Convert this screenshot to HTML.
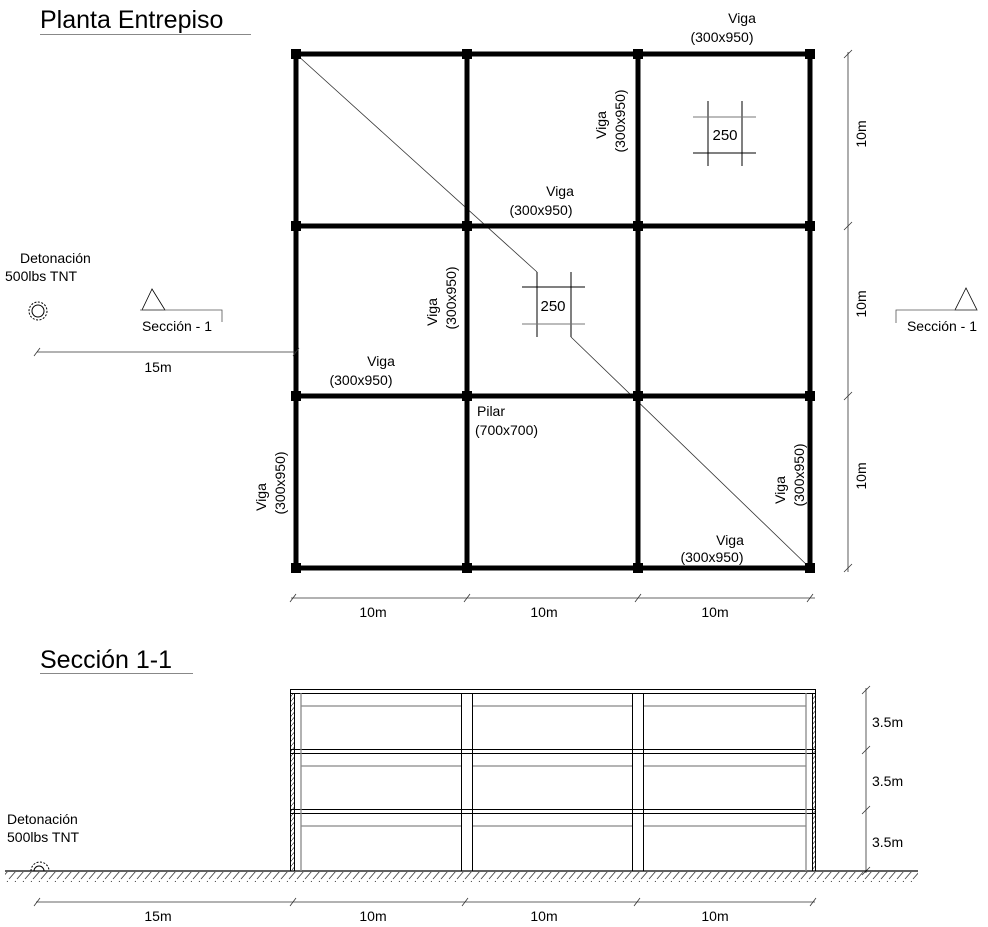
<!DOCTYPE html>
<html><head><meta charset="utf-8"><style>
html,body{margin:0;padding:0;background:#fff;}
svg{display:block;font-family:"Liberation Sans",Arial,sans-serif;}
</style></head><body>
<svg width="988" height="927" viewBox="0 0 988 927" xmlns="http://www.w3.org/2000/svg">
<defs>
<pattern id="gh" width="8" height="10" patternUnits="userSpaceOnUse">
<line x1="8" y1="1" x2="1" y2="9" stroke="#444" stroke-width="0.9"/>
</pattern>
<pattern id="wh" width="4" height="5" patternUnits="userSpaceOnUse">
<line x1="4" y1="0" x2="0" y2="5" stroke="#333" stroke-width="0.7"/>
</pattern>
</defs>
<text x="40" y="28" font-size="25">Planta Entrepiso</text>
<line x1="40" y1="34.5" x2="251" y2="34.5" stroke="#888" stroke-width="1"/>
<text x="40" y="668" font-size="25">Sección 1-1</text>
<line x1="40" y1="673.5" x2="193" y2="673.5" stroke="#888" stroke-width="1"/>

<polyline points="296,54 537,272" fill="none" stroke="#333" stroke-width="0.8"/>
<polyline points="571,337 810,568" fill="none" stroke="#333" stroke-width="0.8"/>

<g stroke="#000" stroke-width="5">
<line x1="296" y1="54" x2="810" y2="54"/>
<line x1="296" y1="226" x2="810" y2="226"/>
<line x1="296" y1="396" x2="810" y2="396"/>
<line x1="296" y1="568" x2="810" y2="568"/>
<line x1="296" y1="54" x2="296" y2="568"/>
<line x1="467" y1="54" x2="467" y2="568"/>
<line x1="638" y1="54" x2="638" y2="568"/>
<line x1="810" y1="54" x2="810" y2="568"/>
</g>
<g fill="#000">
<rect x="291" y="49" width="10" height="10"/><rect x="462" y="49" width="10" height="10"/><rect x="633" y="49" width="10" height="10"/><rect x="805" y="49" width="10" height="10"/>
<rect x="291" y="221" width="10" height="10"/><rect x="462" y="221" width="10" height="10"/><rect x="633" y="221" width="10" height="10"/><rect x="805" y="221" width="10" height="10"/>
<rect x="291" y="391" width="10" height="10"/><rect x="462" y="391" width="10" height="10"/><rect x="633" y="391" width="10" height="10"/><rect x="805" y="391" width="10" height="10"/>
<rect x="291" y="563" width="10" height="10"/><rect x="462" y="563" width="10" height="10"/><rect x="633" y="563" width="10" height="10"/><rect x="805" y="563" width="10" height="10"/>
</g>

<g stroke="#000" stroke-width="1">
<line x1="537" y1="272" x2="537" y2="337"/><line x1="571" y1="272" x2="571" y2="337"/>
<line x1="522" y1="287" x2="585" y2="287"/><line x1="522" y1="324" x2="585" y2="324" stroke="#777"/>
<line x1="708" y1="101" x2="708" y2="166"/><line x1="742" y1="101" x2="742" y2="166"/>
<line x1="693" y1="117" x2="756" y2="117" stroke="#777"/><line x1="693" y1="153" x2="756" y2="153"/>
</g>
<text x="553" y="311" font-size="15" text-anchor="middle">250</text>
<text x="725" y="140" font-size="15" text-anchor="middle">250</text>

<g font-size="14" text-anchor="middle">
<text x="742" y="23">Viga</text><text x="722" y="42">(300x950)</text>
<text x="560" y="196">Viga</text><text x="541" y="215">(300x950)</text>
<text x="381" y="366">Viga</text><text x="361" y="385">(300x950)</text>
<text x="730" y="545">Viga</text><text x="712" y="562">(300x950)</text>
<text x="20" y="263" text-anchor="start">Detonación</text>
<text x="5" y="281" text-anchor="start">500lbs TNT</text>
<text x="177" y="331">Sección - 1</text>
<text x="942" y="331">Sección - 1</text>
<text x="158" y="372">15m</text>
<text x="477" y="416" text-anchor="start">Pilar</text>
<text x="475" y="435" text-anchor="start">(700x700)</text>
<text x="373" y="617">10m</text><text x="544" y="617">10m</text><text x="715" y="617">10m</text>
<text x="158" y="921">15m</text><text x="373" y="921">10m</text><text x="544" y="921">10m</text><text x="715" y="921">10m</text>
</g>
<g font-size="14" text-anchor="middle">
<text transform="translate(606,125) rotate(-90)">Viga</text>
<text transform="translate(625,121) rotate(-90)">(300x950)</text>
<text transform="translate(437,312) rotate(-90)">Viga</text>
<text transform="translate(456,298) rotate(-90)">(300x950)</text>
<text transform="translate(266,497) rotate(-90)">Viga</text>
<text transform="translate(285,483) rotate(-90)">(300x950)</text>
<text transform="translate(785,490) rotate(-90)">Viga</text>
<text transform="translate(804,475) rotate(-90)">(300x950)</text>
<text transform="translate(866,134) rotate(-90)">10m</text>
<text transform="translate(866,304) rotate(-90)">10m</text>
<text transform="translate(866,476) rotate(-90)">10m</text>
</g>
<g font-size="14">
<text x="872" y="727">3.5m</text><text x="872" y="786">3.5m</text><text x="872" y="847">3.5m</text>
<text x="7" y="824">Detonación</text><text x="7" y="842">500lbs TNT</text>
</g>

<g fill="none" stroke="#000" stroke-width="0.8">
<polygon points="152,289 142,310 165,310"/>
<polyline points="140,310 222,310 222,322" stroke="#555"/>
<polygon points="966,288 955,310 977,310"/>
<polyline points="977,310 896,310 896,323" stroke="#555"/>
</g>
<g fill="none" stroke="#000" stroke-width="1">
<circle cx="38" cy="311" r="9" stroke-dasharray="2 1.5"/>
<circle cx="38" cy="311" r="6"/>
<path d="M31,871 A9,9 0 0 1 49,871" stroke-dasharray="2 1.5"/>
<path d="M34,871 A5,5 0 0 1 44,871"/>
</g>

<g stroke="#333" stroke-width="0.8">
<line x1="37" y1="352" x2="296" y2="352"/>
<line x1="34" y1="356" x2="40" y2="348"/><line x1="293" y1="356" x2="299" y2="348"/>
<line x1="291" y1="598" x2="815" y2="598"/>
<line x1="290" y1="602" x2="296" y2="594"/><line x1="464" y1="602" x2="470" y2="594"/><line x1="635" y1="602" x2="641" y2="594"/><line x1="807" y1="602" x2="813" y2="594"/>
<line x1="848" y1="52" x2="848" y2="572"/>
<line x1="844" y1="58" x2="852" y2="50"/><line x1="844" y1="230" x2="852" y2="222"/><line x1="844" y1="400" x2="852" y2="392"/><line x1="844" y1="572" x2="852" y2="564"/>
<line x1="866" y1="688" x2="866" y2="873"/>
<line x1="862" y1="694" x2="870" y2="686"/><line x1="862" y1="754" x2="870" y2="746"/><line x1="862" y1="814" x2="870" y2="806"/><line x1="862" y1="875" x2="870" y2="867"/>
<line x1="36" y1="902" x2="815" y2="902"/>
<line x1="34" y1="906" x2="40" y2="898"/><line x1="290" y1="906" x2="296" y2="898"/><line x1="462" y1="906" x2="468" y2="898"/><line x1="634" y1="906" x2="640" y2="898"/><line x1="810" y1="906" x2="816" y2="898"/>
</g>

<rect x="5" y="872" width="913" height="10" fill="url(#gh)"/>
<line x1="5" y1="871" x2="918" y2="871" stroke="#000" stroke-width="1.2"/>
<rect x="291" y="693" width="3" height="178" fill="url(#wh)"/>
<rect x="813" y="693" width="3" height="178" fill="url(#wh)"/>
<g fill="none" stroke="#000" stroke-width="1">
<rect x="290.5" y="689.5" width="525" height="4"/>
<rect x="290.5" y="749.5" width="525" height="4"/>
<rect x="290.5" y="809.5" width="525" height="4"/>
<line x1="290.5" y1="689" x2="290.5" y2="871"/><line x1="294.5" y1="693" x2="294.5" y2="871"/>
<line x1="815.5" y1="689" x2="815.5" y2="871"/><line x1="812.5" y1="693" x2="812.5" y2="871"/>
<line x1="461.5" y1="693" x2="461.5" y2="871"/><line x1="472.5" y1="693" x2="472.5" y2="871"/>
<line x1="632.5" y1="693" x2="632.5" y2="871"/><line x1="643.5" y1="693" x2="643.5" y2="871"/>
</g>
<g stroke="#888" stroke-width="1.3" fill="none">
<line x1="301" y1="693" x2="301" y2="871"/><line x1="806" y1="693" x2="806" y2="871"/>
<line x1="301" y1="706" x2="461" y2="706"/><line x1="473" y1="706" x2="632" y2="706"/><line x1="644" y1="706" x2="806" y2="706"/>
<line x1="301" y1="766" x2="461" y2="766"/><line x1="473" y1="766" x2="632" y2="766"/><line x1="644" y1="766" x2="806" y2="766"/>
<line x1="301" y1="826" x2="461" y2="826"/><line x1="473" y1="826" x2="632" y2="826"/><line x1="644" y1="826" x2="806" y2="826"/>
</g>
</svg>
</body></html>
